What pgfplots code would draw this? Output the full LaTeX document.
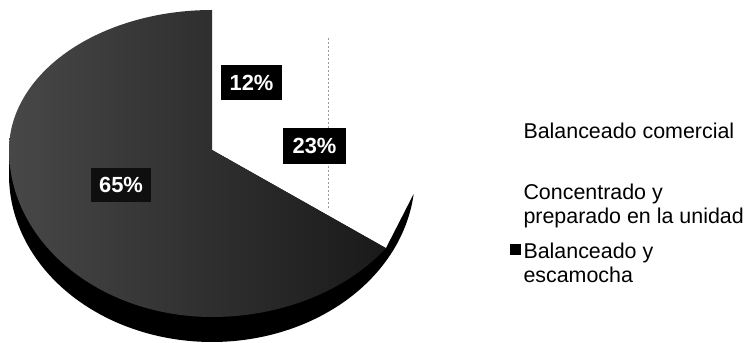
\documentclass[border=0pt]{standalone}
\usepackage{fontspec}
\setmainfont{Liberation Sans}
\usepackage{pgfplots}
\usepackage{pgfplotstable}
\pgfplotsset{compat=1.18}

\pgfplotstableread{
slice share
1 12
2 23
3 65
}\piedata

\begin{document}
\begin{tikzpicture}
\pgfplotstablegetelem{0}{share}\of\piedata \pgfmathsetmacro{\sA}{\pgfplotsretval}
\pgfplotstablegetelem{1}{share}\of\piedata \pgfmathsetmacro{\sB}{\pgfplotsretval}
\pgfplotstablegetelem{2}{share}\of\piedata \pgfmathsetmacro{\sC}{\pgfplotsretval}
% the 65% slice runs counter-clockwise from 12 o'clock
\pgfmathsetmacro{\angEnd}{90+3.6*\sC}
\pgfmathsetmacro{\ex}{212+215*cos(\angEnd)}
\pgfmathsetmacro{\ey}{-150+167*sin(\angEnd)}
\begin{axis}[
  scale only axis, width=751bp, height=343bp,
  xmin=0, xmax=751, ymin=-343, ymax=0,
  hide axis, clip=false,
  legend style={draw=none, fill=none, at={(0.67909,0.74723)}, anchor=north west,
    inner sep=0pt, outer sep=0pt, /tikz/row sep=0bp, /tikz/column sep=2.5bp,
    font=\fontsize{21.5}{24}\selectfont, cells={align=left}, nodes={inner sep=0pt}},
  legend cell align=left,
]
\path (axis cs:0,0) rectangle (axis cs:751,-343);
% side wall (black)
\addplot[forget plot, fill=black, draw=none, domain=180:353.5, samples=120]
  ({212+203*cos(x)},{-175+167*sin(x)}) -- (axis cs:\ex,\ey) -- (axis cs:212,-150) -- (axis cs:9,-150) -- cycle;
% top face of the 65% slice
\addplot[forget plot, draw=none, left color=black!72, right color=black!90, domain=90:\angEnd, samples=160]
  ({212+(cos(x)>0 ? 215 : 203)*cos(x)}, {-150+(sin(x)>0 ? 140 : 167)*sin(x)}) -- (axis cs:212,-150) -- cycle;
% faint vertical line
\addplot[forget plot, black!40, line width=0.7bp, dash pattern=on 2.5bp off 1.5bp] coordinates {(328,-38) (328,-210)};
% legend
\addlegendimage{legend image code/.code={\path[draw=none,fill=none] (0bp,-44bp) rectangle (11bp,44bp);}}
\addlegendentry{\strut Balanceado comercial\strut}
\addlegendimage{legend image code/.code={\path[draw=none,fill=none] (0bp,-29.5bp) rectangle (11bp,29.5bp);}}
\addlegendentry{\strut Concentrado y\\preparado en la unidad\strut}
\addlegendimage{legend image code/.code={\path[draw=none,fill=none] (0bp,-29.5bp) rectangle (11bp,29.5bp); \fill[black, draw=none] (0bp,8.2bp) rectangle (11bp,19.2bp);}}
\addlegendentry{\strut Balanceado y\\escamocha\strut}
% labels
\node[fill=black, text=white, inner sep=0pt, minimum width=61bp, minimum height=35bp,
  font=\bfseries\fontsize{22}{24}\selectfont] at (axis cs:251.5,-82.5) {12\%};
\node[fill=black, text=white, inner sep=0pt, minimum width=63bp, minimum height=36bp,
  font=\bfseries\fontsize{22}{24}\selectfont] at (axis cs:314.5,-146) {23\%};
\node[fill=black!94, text=white, inner sep=0pt, minimum width=60bp, minimum height=34bp,
  font=\bfseries\fontsize{22}{24}\selectfont] at (axis cs:121,-185) {65\%};
\end{axis}
\end{tikzpicture}
\end{document}
